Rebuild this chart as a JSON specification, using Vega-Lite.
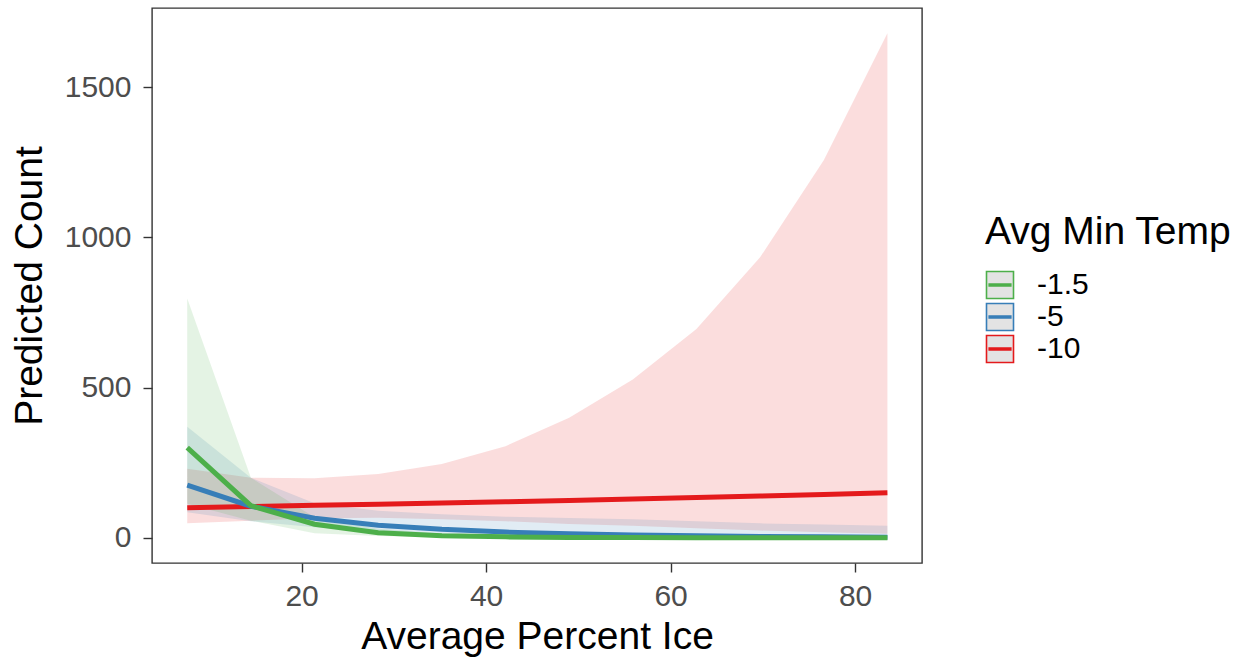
{
  "$schema": "https://vega.github.io/schema/vega-lite/v6.json",
  "width": 770,
  "height": 555,
  "autosize": {"type": "none"},
  "padding": {"left": 152, "top": 8, "right": 330, "bottom": 101},
  "background": "white",
  "config": {
    "font": "Liberation Sans",
    "view": {"stroke": "#333333", "strokeWidth": 1.4},
    "axis": {
      "domain": false,
      "grid": false,
      "tickColor": "#333333",
      "tickWidth": 1.4,
      "tickSize": 9,
      "labelFontSize": 30,
      "labelColor": "#4D4D4D",
      "titleFontSize": 39,
      "titleFontWeight": "normal",
      "titleColor": "black"
    }
  },
  "data": {
    "values": [
      {"ice": 7.6, "temp": "-10", "fit": 100, "lo": 48, "hi": 230},
      {"ice": 14.5, "temp": "-10", "fit": 104, "lo": 57, "hi": 200},
      {"ice": 21.4, "temp": "-10", "fit": 108, "lo": 65, "hi": 198},
      {"ice": 28.3, "temp": "-10", "fit": 112, "lo": 67, "hi": 212},
      {"ice": 35.2, "temp": "-10", "fit": 116, "lo": 62, "hi": 246},
      {"ice": 42.1, "temp": "-10", "fit": 120, "lo": 55, "hi": 305},
      {"ice": 49.0, "temp": "-10", "fit": 124, "lo": 46, "hi": 400},
      {"ice": 55.9, "temp": "-10", "fit": 129, "lo": 40, "hi": 527},
      {"ice": 62.8, "temp": "-10", "fit": 134, "lo": 32, "hi": 695},
      {"ice": 69.7, "temp": "-10", "fit": 139, "lo": 24, "hi": 934},
      {"ice": 76.6, "temp": "-10", "fit": 144, "lo": 18, "hi": 1257},
      {"ice": 83.5, "temp": "-10", "fit": 150, "lo": 13, "hi": 1680},
      {"ice": 7.6, "temp": "-5", "fit": 175, "lo": 85, "hi": 370},
      {"ice": 14.5, "temp": "-5", "fit": 105, "lo": 55, "hi": 200},
      {"ice": 21.4, "temp": "-5", "fit": 65, "lo": 35, "hi": 115},
      {"ice": 28.3, "temp": "-5", "fit": 42, "lo": 20, "hi": 90},
      {"ice": 35.2, "temp": "-5", "fit": 28, "lo": 12, "hi": 78},
      {"ice": 42.1, "temp": "-5", "fit": 19, "lo": 7, "hi": 70},
      {"ice": 49.0, "temp": "-5", "fit": 13, "lo": 4, "hi": 66},
      {"ice": 55.9, "temp": "-5", "fit": 9, "lo": 2.5, "hi": 62},
      {"ice": 62.8, "temp": "-5", "fit": 6.5, "lo": 1.5, "hi": 55},
      {"ice": 69.7, "temp": "-5", "fit": 4.5, "lo": 1, "hi": 48},
      {"ice": 76.6, "temp": "-5", "fit": 3, "lo": 0.6, "hi": 44},
      {"ice": 83.5, "temp": "-5", "fit": 2, "lo": 0.4, "hi": 40},
      {"ice": 7.6, "temp": "-1.5", "fit": 300, "lo": 113, "hi": 797},
      {"ice": 14.5, "temp": "-1.5", "fit": 107, "lo": 57, "hi": 200},
      {"ice": 21.4, "temp": "-1.5", "fit": 45, "lo": 15, "hi": 68},
      {"ice": 28.3, "temp": "-1.5", "fit": 17, "lo": 6, "hi": 30},
      {"ice": 35.2, "temp": "-1.5", "fit": 7, "lo": 2.5, "hi": 14},
      {"ice": 42.1, "temp": "-1.5", "fit": 3, "lo": 1, "hi": 7},
      {"ice": 49.0, "temp": "-1.5", "fit": 1.2, "lo": 0.4, "hi": 3.5},
      {"ice": 55.9, "temp": "-1.5", "fit": 0.5, "lo": 0.14, "hi": 1.8},
      {"ice": 62.8, "temp": "-1.5", "fit": 0.2, "lo": 0.04, "hi": 1},
      {"ice": 69.7, "temp": "-1.5", "fit": 0.1, "lo": 0.02, "hi": 0.5},
      {"ice": 76.6, "temp": "-1.5", "fit": 0.04, "lo": 0.005, "hi": 0.3},
      {"ice": 83.5, "temp": "-1.5", "fit": 0.02, "lo": 0.002, "hi": 0.2}
    ]
  },
  "encoding": {
    "x": {
      "field": "ice",
      "type": "quantitative",
      "title": "Average Percent Ice",
      "scale": {"domain": [3.78, 87.25], "nice": false, "zero": false},
      "axis": {"values": [20, 40, 60, 80], "labelPadding": 9, "titlePadding": 6}
    }
  },
  "layer": [
    {
      "mark": {"type": "area", "opacity": 0.15},
      "encoding": {
        "y": {
          "field": "lo",
          "type": "quantitative",
          "title": "Predicted Count",
          "scale": {"domain": [-84, 1764], "nice": false, "zero": false},
          "axis": {"values": [0, 500, 1000, 1500], "format": "d", "labelPadding": 12, "titlePadding": 15}
        },
        "y2": {"field": "hi"},
        "fill": {
          "field": "temp",
          "type": "nominal",
          "scale": {"domain": ["-1.5", "-5", "-10"], "range": ["#4DAF4A", "#377EB8", "#E41A1C"]},
          "legend": null
        }
      }
    },
    {
      "mark": {"type": "line", "strokeWidth": 5},
      "encoding": {
        "y": {"field": "fit", "type": "quantitative"},
        "stroke": {
          "field": "temp",
          "type": "nominal",
          "title": "Avg Min Temp",
          "scale": {"domain": ["-1.5", "-5", "-10"], "range": ["#4DAF4A", "#377EB8", "#E41A1C"]},
          "legend": {
            "orient": "none",
            "legendX": 833,
            "legendY": 205,
            "titleFontSize": 39,
            "titleFontWeight": "normal",
            "titleColor": "black",
            "titleLimit": 400,
            "titlePadding": 18,
            "labelFontSize": 30,
            "labelColor": "black",
            "labelOffset": 22,
            "labelLimit": 200,
            "rowPadding": -3,
            "symbolSize": 729,
            "symbolType": "M-1,-1H1V1H-1Z M-0.8,-0.065H0.8V0.065H-0.8Z",
            "symbolStrokeWidth": 1.6,
            "symbolFillColor": "#e3e3e3",
            "encode": {
              "symbols": {
                "update": {
                  "fill": {"value": "#e3e3e3"},
                  "fillOpacity": {"value": 1},
                  "opacity": {"value": 1},
                  "strokeWidth": {"value": 1.6}
                }
              }
            }
          }
        }
      }
    }
  ],
  "resolve": {"legend": {"fill": "independent", "stroke": "independent"}}
}
